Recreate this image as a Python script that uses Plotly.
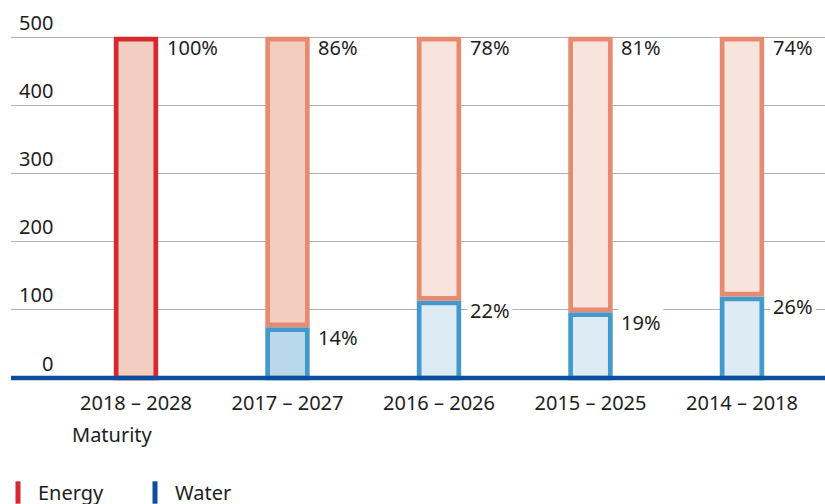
import plotly.graph_objects as go

# ---- data ----
categories = ["2018 – 2028", "2017 – 2027", "2016 – 2026", "2015 – 2025", "2014 – 2018"]
water_values = [0, 71, 110, 93, 116]
total_values = [497, 497, 497, 497, 497]
energy_labels = ["100%", "86%", "78%", "81%", "74%"]
water_labels = ["", "14%", "22%", "19%", "26%"]
y_tick_values = [0, 100, 200, 300, 400, 500]
y_tick_labels = ["0", "100", "200", "300", "400", "500"]
axis_title = "Maturity"
series_names = ["Energy", "Water"]

# ---- style ----
FONT = "Noto Sans"
TXT = "#1e1e1e"
LW = 4.7
PX_PER_UNIT = 0.682
GAP = LW / PX_PER_UNIT
BAR_W = 0.262

energy_fill = ["#f2cec1", "#f2cec1", "#f8e4dc", "#f8e4dc", "#f8e4dc"]
energy_line = ["#d7282f", "#e68a70", "#e68a70", "#e68a70", "#e68a70"]
water_fill = ["#ddebf5", "#b9d8ea", "#ddebf5", "#ddebf5", "#ddebf5"]
water_line = "#4499cc"
ENERGY_KEY = "#d7282f"
WATER_KEY = "#0b4f9e"

energy_base = [w + GAP if w > 0 else 0 for w in water_values]
energy_heights = [t - b for t, b in zip(total_values, energy_base)]
water_plot = [w if w > 0 else None for w in water_values]

fig = go.Figure()
fig.add_trace(go.Bar(
    x=categories, y=water_plot, width=BAR_W,
    marker=dict(color=water_fill, line=dict(color=water_line, width=LW)),
    showlegend=False, hoverinfo="skip"))
fig.add_trace(go.Bar(
    x=categories, y=energy_heights, base=energy_base, width=BAR_W,
    marker=dict(color=energy_fill, line=dict(color=energy_line, width=LW)),
    showlegend=False, hoverinfo="skip"))

# legend keys
for name, col in zip(series_names, [ENERGY_KEY, WATER_KEY]):
    fig.add_trace(go.Scatter(
        x=[None], y=[None], mode="markers", name=name,
        marker=dict(symbol="line-ns", size=16, color=col, line=dict(width=7, color=col))))

annotations = []
# y tick labels above gridlines
for v, lab in zip(y_tick_values, y_tick_labels):
    annotations.append(dict(
        xref="paper", x=(54.5 - 11) / 814, xanchor="right",
        yref="y", y=v, yanchor="middle", yshift=15,
        text=lab, showarrow=False, font=dict(family=FONT, size=20, color=TXT)))
# energy share labels
for c, t, lab in zip(categories, total_values, energy_labels):
    annotations.append(dict(
        x=c, y=t, xref="x", yref="y", xanchor="left", yanchor="middle",
        xshift=29, yshift=-8, text=lab, showarrow=False,
        font=dict(family=FONT, size=20, color=TXT)))
# water share labels
for c, w, lab in zip(categories, water_values, water_labels):
    if not lab:
        continue
    annotations.append(dict(
        x=c, y=w, xref="x", yref="y", xanchor="left", yanchor="middle",
        xshift=28, yshift=-8, text=lab, showarrow=False, bgcolor="white",
        borderpad=2, font=dict(family=FONT, size=20, color=TXT)))
annotations.append(dict(
    xref="paper", x=(70 - 11) / 814, xanchor="left",
    yref="paper", y=-(434 - 381) / 345, yanchor="middle",
    text=axis_title, showarrow=False, font=dict(family=FONT, size=20, color=TXT)))

fig.update_layout(
    width=825, height=504,
    margin=dict(l=11, r=0, t=36, b=123, pad=0, autoexpand=False),
    paper_bgcolor="white", plot_bgcolor="white",
    barmode="overlay",
    font=dict(family=FONT, size=20, color=TXT),
    xaxis=dict(type="category", range=[-0.825, 4.548], showgrid=False, showline=False,
               zeroline=False, ticks="", tickfont=dict(family=FONT, size=20, color=TXT),
               ticklabelstandoff=8, fixedrange=True, automargin=False),
    yaxis=dict(range=[-4.4, 501.5], tickvals=y_tick_values[1:], showticklabels=False,
               showgrid=True, gridcolor="#b3b3b3", gridwidth=1.3, zeroline=False,
               showline=False, ticks="", fixedrange=True, automargin=False),
    legend=dict(orientation="h", x=-13 / 814, xanchor="left",
                y=-(492.5 - 381) / 345, yanchor="middle",
                font=dict(family=FONT, size=20, color=TXT),
                entrywidth=92, bgcolor="rgba(0,0,0,0)", borderwidth=0),
    annotations=annotations,
    shapes=[dict(type="line", xref="paper", x0=0, x1=1, yref="y", y0=0, y1=0,
                 line=dict(color=WATER_KEY, width=4.5), layer="above")],
    showlegend=True,
)

fig.write_html("out.html", config={"displayModeBar": False},
               post_script="document.body.style.margin='0';document.body.style.overflow='hidden';")
